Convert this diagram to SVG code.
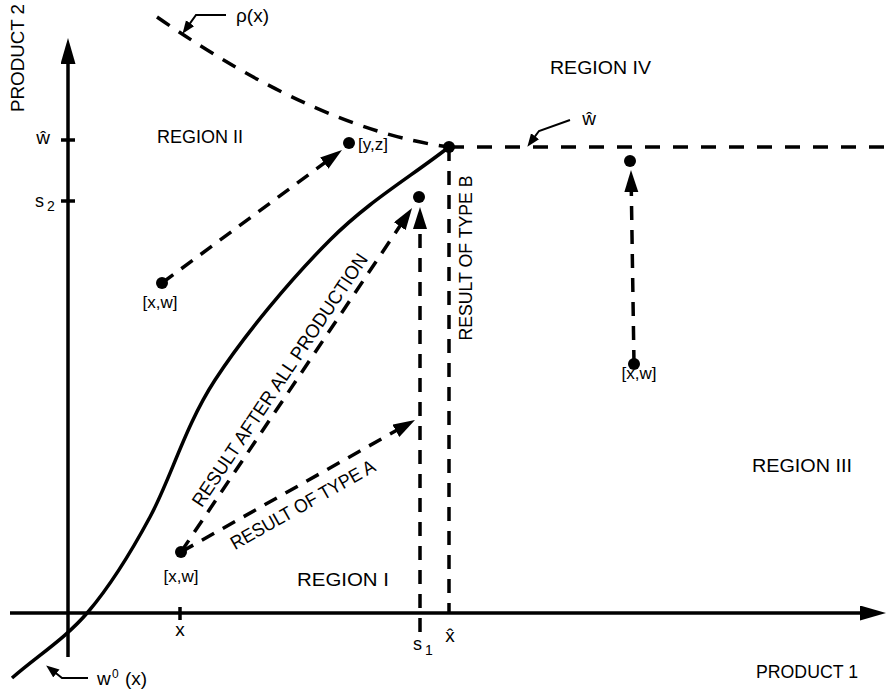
<svg xmlns="http://www.w3.org/2000/svg" width="889" height="692" viewBox="0 0 889 692">
<defs>
<style>
.t{font-family:"Liberation Sans",Arial,sans-serif;fill:#000;font-size:19px}
.s{font-size:17px}
.ax{stroke:#000;stroke-width:3.5;fill:none}
.dash{stroke:#000;stroke-width:3.5;fill:none;stroke-dasharray:14 10}
.thin{stroke:#000;stroke-width:2;fill:none}
.dot{fill:#000}
</style>
<marker id="big" markerUnits="userSpaceOnUse" markerWidth="24" markerHeight="16" refX="2" refY="7" orient="auto">
<path d="M0,0 L22,7 L0,14 z" fill="#000"/>
</marker>
<marker id="axarr" markerUnits="userSpaceOnUse" markerWidth="30" markerHeight="18" refX="2" refY="7.5" orient="auto">
<path d="M0,0 L26,7.5 L0,15 z" fill="#000"/>
</marker>
<marker id="sm" markerUnits="userSpaceOnUse" markerWidth="14" markerHeight="12" refX="2" refY="5" orient="auto">
<path d="M0,0 L13,5 L0,10 z" fill="#000"/>
</marker>
</defs>
<rect width="889" height="692" fill="#fff"/>

<g id="axes">
<line class="ax" x1="68" y1="657" x2="68" y2="62" marker-end="url(#axarr)"/>
<line class="ax" x1="10" y1="613" x2="862" y2="613" marker-end="url(#axarr)"/>
<line class="ax" x1="61" y1="140" x2="75" y2="140"/>
<line class="ax" x1="61" y1="201" x2="75" y2="201"/>
<line class="ax" x1="180" y1="607" x2="180" y2="620"/>
</g>

<g id="curves">
<path id="w0curve" class="ax" d="M12,678 C37,656 65,639 88,612 C111,585 129,556 150,517 C171,478 185,426 215,380 C245,334 291,279 330,240 C369,201 409,178 449,147"/>
<path id="rho" class="dash" d="M157,17 Q320,130 449,147" style="stroke-dasharray:15 11"/>
<line id="what" class="dash" x1="449" y1="147" x2="888" y2="147" style="stroke-dasharray:15 13"/>
<line id="xhat" class="dash" x1="449" y1="147" x2="449" y2="612"/>
</g>

<g id="connectors">
<line class="dash" x1="162" y1="283" x2="325.9" y2="161.9" marker-end="url(#big)"/>
<line class="dash" x1="181" y1="552" x2="400.9" y2="224.6" marker-end="url(#big)"/>
<line class="dash" x1="181" y1="552" x2="397.6" y2="429.8" marker-end="url(#big)"/>
<line class="dash" x1="420" y1="632" x2="420" y2="227" marker-end="url(#big)"/>
<line class="dash" x1="634" y1="364" x2="631.3" y2="190" marker-end="url(#big)"/>
<polyline class="thin" points="226,15 196,15 188.9,24.9" marker-end="url(#sm)"/>
<polyline class="thin" points="570,120 539,131 533.9,137.9" marker-end="url(#sm)"/>
<polyline class="thin" points="88,678 62,678 54.8,672.3" marker-end="url(#sm)"/>
</g>

<g id="points">
<circle class="dot" cx="449" cy="147" r="6"/>
<circle class="dot" cx="349" cy="143" r="6"/>
<circle class="dot" cx="419" cy="197" r="6"/>
<circle class="dot" cx="630" cy="161" r="6"/>
<circle class="dot" cx="634" cy="364" r="6"/>
<circle class="dot" cx="162" cy="283" r="6"/>
<circle class="dot" cx="181" cy="552" r="6"/>
</g>

<g id="labels">
<text class="t" transform="translate(24,58) rotate(-90)" text-anchor="middle" textLength="108" lengthAdjust="spacingAndGlyphs">PRODUCT 2</text>
<text class="t" x="43" y="144" text-anchor="middle">ŵ</text>
<text class="t" x="35" y="207" style="font-size:18px">s</text>
<text class="t" x="47" y="211" style="font-size:14px">2</text>
<text class="t" x="236" y="22">ρ(x)</text>
<text class="t" x="550" y="74" textLength="101" lengthAdjust="spacingAndGlyphs">REGION IV</text>
<text class="t" x="157" y="143" textLength="86" lengthAdjust="spacingAndGlyphs">REGION II</text>
<text class="t s" x="358" y="150">[y,z]</text>
<text class="t" x="589" y="125" text-anchor="middle">ŵ</text>
<text class="t s" x="160" y="308" text-anchor="middle">[x,w]</text>
<text class="t s" x="639" y="379" text-anchor="middle">[x,w]</text>
<text class="t s" x="181" y="582" text-anchor="middle">[x,w]</text>
<text class="t" transform="translate(472,258) rotate(-90)" text-anchor="middle" textLength="165" lengthAdjust="spacingAndGlyphs">RESULT OF TYPE B</text>
<text class="t" transform="translate(291,387.5) rotate(-56.2)" y="-7" text-anchor="middle" textLength="300" lengthAdjust="spacingAndGlyphs">RESULT AFTER ALL PRODUCTION</text>
<text class="t" transform="translate(293.7,488.5) rotate(-29.4)" y="25" text-anchor="middle" textLength="163" lengthAdjust="spacingAndGlyphs">RESULT OF TYPE A</text>
<text class="t" x="752" y="472" textLength="100" lengthAdjust="spacingAndGlyphs">REGION III</text>
<text class="t" x="297" y="586" textLength="92" lengthAdjust="spacingAndGlyphs">REGION I</text>
<text class="t" x="180" y="636" text-anchor="middle">x</text>
<text class="t" x="413" y="650" style="font-size:18px">s</text>
<text class="t" x="425" y="655" style="font-size:14px">1</text>
<text class="t" x="450" y="642" text-anchor="middle">x̂</text>
<text class="t" x="756" y="678" textLength="102" lengthAdjust="spacingAndGlyphs">PRODUCT 1</text>
<text class="t" x="97" y="685">w</text>
<text class="t" x="112" y="678" style="font-size:12px">0</text>
<text class="t" x="125" y="685">(x)</text>
</g>
</svg>
